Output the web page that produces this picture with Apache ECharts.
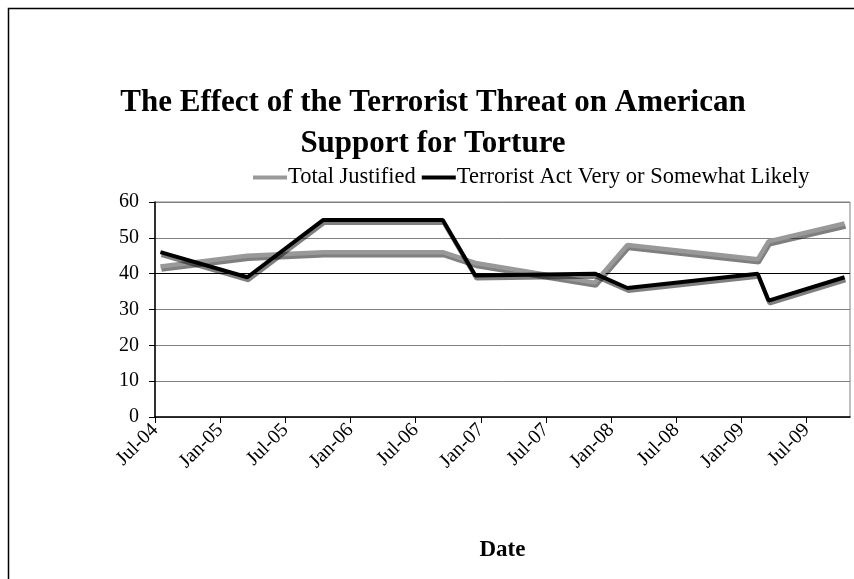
<!DOCTYPE html>
<html>
<head>
<meta charset="utf-8">
<script src="https://cdn.jsdelivr.net/npm/echarts@6/dist/echarts.min.js"></script>
<style>
  html, body { margin: 0; padding: 0; background: #fff; }
  #chart { width: 854px; height: 579px; }
</style>
</head>
<body>
<div id="chart"></div>
<script>
// survey dates (month-year) and the two series
const surveyMonths = ['Jul-04', 'Mar-05', 'Oct-05', 'Sep-06', 'Dec-06', 'Nov-07', 'Feb-08', 'Feb-09', 'Mar-09', 'Oct-09'];
const totalJustified = [42, 45, 46, 46, 43, 37.5, 48, 44, 49, 54];
const terroristLikely = [46, 39, 55, 55, 39.5, 40, 36, 40, 32.5, 39];
const tickLabels = ['Jul-04', 'Jan-05', 'Jul-05', 'Jan-06', 'Jul-06', 'Jan-07', 'Jul-07', 'Jan-08', 'Jul-08', 'Jan-09', 'Jul-09'];

const MON = ['Jan', 'Feb', 'Mar', 'Apr', 'May', 'Jun', 'Jul', 'Aug', 'Sep', 'Oct', 'Nov', 'Dec'];
// months since Jul-04
const monthIndex = (s) => {
  const [m, y] = s.split('-');
  return (2000 + Number(y) - 2004) * 12 + MON.indexOf(m) - 6;
};
// points sit in the middle of their month slot
const toPoints = (vals) => surveyMonths.map((m, i) => [monthIndex(m) + 0.5, vals[i]]);
const tickValues = tickLabels.map(monthIndex);

const font = 'Liberation Serif, Times New Roman, serif';
const shadow = {
  shadowColor: 'rgba(0,0,0,0.5)',
  shadowBlur: 0,
  shadowOffsetX: 1,
  shadowOffsetY: 3
};

const chart = echarts.init(document.getElementById('chart'));
chart.setOption({
  animation: false,
  backgroundColor: '#fff',
  graphic: [
    {
      type: 'rect',
      shape: { x: 8.5, y: 8.5, width: 900, height: 650 },
      style: { fill: 'none', stroke: '#000', lineWidth: 1.5 },
      silent: true
    }
  ],
  title: {
    text: 'The Effect of the Terrorist Threat on American\nSupport for Torture',
    left: 428,
    textAlign: 'center',
    top: 77,
    textStyle: {
      fontFamily: font,
      fontWeight: 'bold',
      fontSize: 31,
      lineHeight: 41,
      color: '#000'
    }
  },
  legend: {
    top: 161,
    left: 248,
    itemGap: 6,
    itemWidth: 34,
    itemHeight: 4,
    icon: 'rect',
    textStyle: { fontFamily: font, fontSize: 22.5, color: '#000', padding: [0, 0, 0, -4] },
    data: [
      { name: 'Total Justified', itemStyle: { color: '#999999', shadowColor: 'transparent' } },
      { name: 'Terrorist Act Very or Somewhat Likely', itemStyle: { color: '#000', shadowColor: 'transparent' } }
    ]
  },
  grid: {
    left: 155,
    right: 4,
    top: 202,
    bottom: 162,
    show: true,
    borderColor: '#808080',
    borderWidth: 1,
    containLabel: false
  },
  xAxis: {
    type: 'value',
    min: 0,
    max: 64,
    name: 'Date',
    nameLocation: 'middle',
    nameGap: 122,
    nameTextStyle: { fontFamily: font, fontWeight: 'bold', fontSize: 23, color: '#000' },
    axisLine: { show: true, lineStyle: { color: '#000', width: 1.5 } },
    axisTick: { show: true, inside: false, length: 6, customValues: tickValues, lineStyle: { color: '#000' } },
    axisLabel: {
      customValues: tickValues,
      rotate: 45,
      margin: 10,
      fontFamily: font,
      fontSize: 20,
      color: '#000',
      formatter: (v) => tickLabels[tickValues.indexOf(v)] || ''
    },
    splitLine: { show: false }
  },
  yAxis: {
    type: 'value',
    min: 0,
    max: 60,
    interval: 10,
    axisLine: { show: true, lineStyle: { color: '#000', width: 1.5 } },
    axisTick: { show: true, inside: false, length: 6, lineStyle: { color: '#000' } },
    axisLabel: { fontFamily: font, fontSize: 20, color: '#000', margin: 16 },
    splitLine: {
      show: true,
      lineStyle: {
        color: ['#808080', '#808080', '#808080', '#808080', '#000', '#808080', '#808080'],
        width: 1
      }
    }
  },
  series: [
    {
      name: 'Total Justified',
      type: 'line',
      data: toPoints(totalJustified),
      showSymbol: false,
      symbol: 'none',
      color: '#999999',
      lineStyle: { color: '#999999', width: 4.5, ...shadow }
    },
    {
      name: 'Terrorist Act Very or Somewhat Likely',
      type: 'line',
      data: toPoints(terroristLikely),
      showSymbol: false,
      symbol: 'none',
      color: '#000',
      lineStyle: { color: '#000', width: 4, ...shadow }
    }
  ]
});
</script>
</body>
</html>
